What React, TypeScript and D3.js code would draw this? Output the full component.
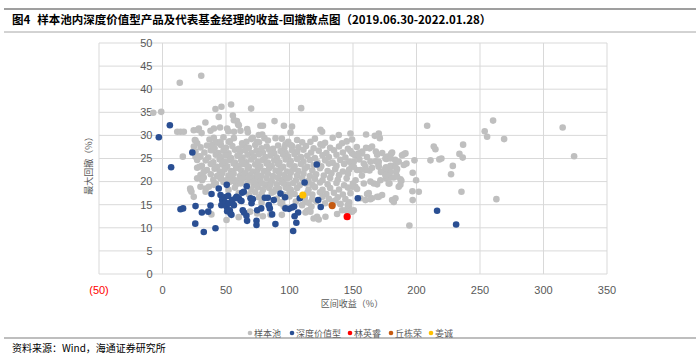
import React from 'react';
import * as d3 from 'd3';

const W = 700;
const H = 355;

const xTicks = [-50, 0, 50, 100, 150, 200, 250, 300, 350];
const xTickLabels = ['(50)', '0', '50', '100', '150', '200', '250', '300', '350'];
const yTicks = [0, 5, 10, 15, 20, 25, 30, 35, 40, 45, 50];

const legendNames = ['样本池', '深度价值型', '林英睿', '丘栋荣', '姜诚'];

// 样本池 (区间收益 %, 最大回撤 %)
const poolPoints: [number, number][] = [
  [-7.3, 34.9], [-1, 35.1], [13.6, 41.4], [30.5, 42.9],
  [41.7, 35.7], [46.4, 36.2], [54, 36.7], [69.8, 35.8], [109.2, 35.9],
  [44.3, 34], [33.8, 32.8], [55.4, 34.3], [56.2, 33.3], [58.6, 33.1], [59.5, 32.4], [60.1, 32.2], [88.2, 33.1], [79.1, 32.1], [77.1, 32.1], [95.6, 32.1], [102, 31.9],
  [11.6, 30.8], [14.2, 30.8], [16.8, 30.8], [24.6, 31.1], [27.8, 31.2], [28.6, 31.5], [30.8, 30.5], [37.8, 31], [40.5, 31.5], [45.3, 31.7], [50.9, 31.5], [51.9, 30.9], [56.3, 30.8], [61.4, 31], [66.7, 31.4], [67.2, 30.7], [75.8, 30.1], [78.5, 30.2], [80.3, 29.4], [89, 29.4], [100.8, 30.6], [124.4, 31.2], [125.7, 30.8], [138.8, 30.1], [148, 30.4], [149.3, 29.1], [160.3, 30.2], [167.2, 29.9], [170.3, 30.4], [171.1, 29.4],
  [106, 29], [110, 28.5], [116.5, 28.6], [102, 27.7], [96.8, 28.1], [124.4, 28.1], [141.4, 28.3],
  [37, 29.1], [43, 28.4], [48, 29.6], [53, 28.7], [63, 28.0], [70, 29.2], [76, 28.5], [83, 28.9], [94, 29.3], [99, 28.6], [120, 29.3], [128, 28.4], [134, 29.5], [145, 28.7],
  [30, 27.4], [35, 27.8], [41, 27.2], [46, 27.9], [50, 27.3], [55, 27.7], [60, 27.1], [64, 27.8], [68, 27.3], [73, 27.9], [78, 27.2], [82, 27.6], [87, 27.1], [91, 27.8], [96, 27.3], [101, 27.9], [107, 27.4], [113, 27.7], [119, 27.2], [126, 27.8], [132, 27.3], [139, 27.6], [146, 27.1], [153, 27.5], [165, 27.6],
  [33, 26.3], [38, 26.8], [44, 26.2], [48, 26.7], [52, 26.1], [57, 26.9], [61, 26.4], [65, 26.8], [70, 26.2], [74, 26.7], [79, 26.3], [84, 26.9], [88, 26.1], [93, 26.6], [97, 26.2], [102, 26.8], [106, 26.4], [111, 26.9], [117, 26.3], [123, 26.7], [129, 26.2], [135, 26.8], [142, 26.3], [148, 26.6], [168, 26.5], [173, 26.2],
  [29, 25.5], [36, 25.2], [42, 25.8], [46, 25.3], [50, 25.7], [54, 25.1], [59, 25.6], [63, 25.2], [67, 25.8], [72, 25.4], [76, 25.9], [81, 25.3], [85, 25.7], [90, 25.2], [95, 25.8], [99, 25.4], [104, 25.9], [109, 25.3], [114, 25.6], [120, 25.1], [126, 25.7], [131, 25.3], [137, 25.8], [144, 25.2], [152, 25.6], [161, 25.3], [169, 25.8], [177, 25.4],
  [34, 24.6], [40, 24.2], [45, 24.8], [49, 24.3], [53, 24.7], [57, 24.1], [62, 24.6], [66, 24.2], [70, 24.8], [75, 24.3], [79, 24.7], [83, 24.1], [88, 24.6], [92, 24.2], [97, 24.8], [101, 24.4], [106, 24.9], [111, 24.3], [116, 24.7], [122, 24.2], [128, 24.6], [134, 24.1], [140, 24.7], [147, 24.3], [155, 24.8], [168, 24.4],
  [31, 23.4], [38, 23.8], [43, 23.2], [47, 23.7], [51, 23.3], [56, 23.9], [60, 23.4], [64, 23.8], [68, 23.2], [73, 23.7], [77, 23.3], [82, 23.9], [86, 23.4], [91, 23.8], [95, 23.2], [100, 23.7], [104, 23.3], [109, 23.8], [114, 23.2], [119, 23.6], [125, 23.3], [131, 23.9], [137, 23.4], [143, 23.8], [149, 23.3], [170, 23.6], [176, 23.1],
  [35, 22.5], [41, 22.8], [45, 22.2], [49, 22.7], [54, 22.3], [58, 22.9], [62, 22.4], [67, 22.8], [71, 22.2], [75, 22.6], [80, 22.3], [84, 22.9], [89, 22.4], [93, 22.8], [98, 22.2], [103, 22.7], [107, 22.3], [112, 22.8], [118, 22.4], [124, 22.9], [130, 22.3], [136, 22.7], [142, 22.2], [147, 22.6], [163, 22.4], [172, 22.1],
  [38, 21.6], [43, 21.2], [47, 21.8], [52, 21.3], [56, 21.7], [61, 21.2], [65, 21.8], [69, 21.4], [74, 21.9], [78, 21.3], [83, 21.7], [87, 21.2], [92, 21.8], [96, 21.4], [101, 21.9], [106, 21.3], [111, 21.7], [116, 21.2], [121, 21.6], [127, 21.3], [133, 21.8], [139, 21.4], [146, 21.7], [157, 21.3],
  [40, 20.4], [46, 20.8], [50, 20.3], [55, 20.7], [60, 20.2], [64, 20.8], [69, 20.4], [73, 20.9], [77, 20.3], [82, 20.7], [86, 20.2], [91, 20.8], [95, 20.4], [100, 20.9], [105, 20.3], [110, 20.7], [115, 20.2], [120, 20.6], [126, 20.3], [132, 20.8], [138, 20.4], [145, 20.7], [152, 20.3],
  [42, 19.6], [48, 19.9], [58, 19.4], [62, 19.8], [67, 19.6], [72, 19.2], [76, 19.7], [81, 19.3], [85, 19.8], [90, 19.4], [94, 19.9], [99, 19.3], [103, 19.7], [108, 19.2], [113, 19.6], [118, 19.3], [124, 19.8], [130, 19.4], [137, 19.7], [143, 19.2], [150, 19.6],
  [34, 18.5], [52, 18.2], [57, 18.7], [70, 18.3], [75, 18.8], [79, 18.2], [84, 18.6], [89, 18.3], [97, 18.7], [101, 18.2], [106, 18.6], [115, 18.3], [120, 18.8], [126, 18.2], [132, 18.6], [139, 18.3], [146, 18.7],
  [60, 17.5], [68, 17.2], [73, 17.7], [78, 17.3], [86, 17.6], [95, 17.2], [100, 17.7], [104, 17.3], [114, 17.6], [118, 17.2], [124, 17.7], [129, 17.3], [135, 17.6], [142, 17.2], [148, 17.5],
  [76, 16.6], [90, 16.3], [100, 16.8], [112, 16.5], [118, 16.2], [126, 16.7], [131, 16.3], [138, 16.6], [144, 16.2],
  [78, 15.5], [93, 15.3], [105, 15.7], [115, 15.4], [121, 15.8], [128, 15.3], [134, 15.7], [140, 15.2], [147, 15.5],
  [38.5, 12.9], [50.4, 11.7], [60, 12.3], [69, 13.5], [79, 12.5], [94, 12.8], [112.6, 13.3], [115.2, 13.8], [119, 12], [121.7, 12.4], [128.3, 12.4], [123, 11.8], [137.5, 13], [141.4, 13.8], [144, 13.8], [148.5, 13.6], [150.6, 13.8], [146.7, 14.6], [145.9, 14.9], [140.1, 15.1], [136.2, 15.9], [117.3, 14.6], [113.9, 13.7], [116.5, 13.5], [112.5, 15.6], [109.9, 14.9], [94.2, 15.6], [95.5, 14.6], [85, 12.8], [74.5, 13.1],
  [25.5, 29], [27.3, 28.3], [24.7, 27.6], [26, 26.5], [29.9, 25.4], [27.3, 24.7], [23.9, 26.5], [16, 25.4], [32.5, 22.1], [29.9, 21.4], [27.3, 20.7], [31.2, 20.3], [32.5, 20.9], [21.8, 18.5], [22.8, 17.8], [24.6, 16.7], [36.5, 18.9], [26, 25.4], [27.3, 23], [29.1, 23.2], [26, 28.9], [39.1, 27.9], [39.6, 26.8], [41.7, 28.6], [40.4, 29.5], [45.7, 28.6], [52.2, 28.6], [56.2, 29.4], [62.7, 28.3], [66.1, 28.6], [71.1, 29.5], [74.5, 28.6],
  [22.1, 18.2], [29.9, 18.9], [33.9, 17.8], [40.4, 19.3], [45.7, 20.7], [53.5, 20], [57.5, 20.3], [61.4, 19.6], [68, 20.7], [71.9, 20], [74.5, 21.4], [78.5, 19.6], [85, 19.3], [87.6, 17.8], [91.6, 18.5], [95.5, 19.6], [98.1, 20.7], [99.5, 18.5],
  [208.4, 32.1], [260.3, 33.2], [253.7, 30.9], [255.6, 29.7], [269, 29.2], [315.1, 31.7], [324.1, 25.5], [236.7, 28], [213.6, 27.6], [214.9, 27], [233.8, 26], [236.4, 25.2], [211, 24.6], [218, 24.8], [219.6, 25], [228.6, 23.4], [227.2, 21.6], [235.4, 17.8], [262.9, 16.2], [198.4, 24.6], [197, 21.9], [199.7, 20.3], [196.8, 17.9], [201.8, 17.8], [197, 16], [194.4, 10.5], [192.1, 23.9], [190, 25.9], [191.3, 26.1], [183.2, 24.7], [180.8, 26.3], [180, 26], [176.3, 24.9], [179.5, 23.4], [182.1, 23.4], [184.7, 22.7], [184, 22.1], [176, 21.8], [176, 20.7], [179.5, 20.9], [182.1, 20.9], [184.7, 21.1], [187.4, 20.5], [188.1, 20.2], [186, 18.9], [178.7, 19.6], [171.6, 20.3], [169, 19.4], [166.4, 19.6], [163.7, 20], [158.5, 19.6], [159.8, 22.5], [155.9, 22.5], [153.2, 22.5], [150.6, 24.3], [157.2, 26.5], [154.6, 26.1], [163, 27.2], [160.3, 27.3], [149.3, 26.1], [151.9, 18.9], [149.3, 18.9], [153.2, 18.4], [161.1, 17.3], [163.7, 16.2], [170.3, 16.7], [172.9, 17.1], [180.8, 16], [183.4, 16.4], [182.1, 15.6], [155.9, 16.4], [149.3, 13.5], [163.7, 24.3], [170.3, 24.3], [175.6, 22.6], [179.5, 22.1],
  [159.8, 23.2], [175.5, 21.4], [183.4, 23.2], [178.1, 19.6], [187.3, 19.3], [162.4, 17.5], [159.8, 16], [165, 16.4], [169, 16.7],
  [157.1, 26.1], [154.5, 25.9], [150.6, 25.9], [175.5, 25], [179.5, 25], [188.6, 25.7], [186, 24.3], [190, 23.6],
  [150.6, 23.2], [158.5, 23.9], [165, 23], [170.3, 23.2], [175.5, 22.9],
];

// 深度价值型
const valuePoints: [number, number][] = [
  [-2.9, 29.6], [5.8, 32.2], [6.8, 23.1], [23.5, 26.3],
  [14.2, 14.0], [16.2, 14.2], [26, 14.7], [25.8, 10.9], [32.5, 9.1], [41.7, 9.9],
  [31, 13.3], [36, 13.5], [37.8, 14.8], [38.6, 17.3], [44.3, 18.5], [50.6, 19.3],
  [45.7, 17.1], [47, 16], [48, 15.3], [46.4, 14.9], [49.6, 15.4], [50.4, 14.6], [52.2, 15.3], [53, 13.8], [53.5, 13.1], [50.9, 13.6], [54.3, 12.8], [48.8, 16.6], [51.7, 16.9], [54.8, 16], [57.5, 16.4], [56.2, 14.9], [58.3, 16.7], [60.1, 16.4], [61.4, 15.9], [62.7, 17.6], [64, 17.8], [66.3, 19.0], [62.2, 15.8], [63.2, 13.8], [64.2, 13.3], [66.1, 12.6], [66.6, 11.5], [69.3, 16.4], [71.2, 16.2], [70.1, 15.3], [74.5, 13.8], [74, 11.5], [74, 10.6], [77.7, 14.2], [80.6, 16.5], [82.9, 16.5], [83.7, 14.9], [84.5, 14.2], [86.3, 12.9], [87.6, 16], [88.9, 10.8], [92.9, 17.4], [96.5, 16.6], [96.8, 14.2], [99.6, 14.1], [102.1, 14.4], [103.6, 14.6], [106.8, 13.3], [104, 12.5], [105.4, 11.1], [102.9, 9.3], [108.1, 16.4], [111.9, 19.8], [121.5, 23.7], [122.6, 16], [124.6, 14.5], [153.8, 16.4], [216.2, 13.7], [231.2, 10.7],
];

const linPoints: [number, number][] = [[145.4, 12.4]];
const qiuPoints: [number, number][] = [[133.6, 14.8]];
const jiangPoints: [number, number][] = [[110.5, 17.1]];

const seriesColors = ['#bfbfbf', '#2a4f93', '#ff0000', '#c55a11', '#ffc000'];

const x = d3.scaleLinear().domain([-50, 350]).range([99, 607]);
const y = d3.scaleLinear().domain([0, 50]).range([274, 43]);

const numFont = '"Liberation Sans", Arial, sans-serif';
const cjkFont = '"Noto Sans CJK SC", "Noto Sans", sans-serif';

export default function App() {
  const series = [poolPoints, valuePoints, linPoints, qiuPoints, jiangPoints];
  const legendX = [250, 292, 350, 391, 431];
  const r = 3.3;
  return (
    <svg width={W} height={H} style={{ position: 'absolute', left: 0, top: 0, background: '#fff' }}>
      <rect x={0} y={0} width={W} height={H} fill="#fff" />
      {/* title */}
      <line x1={4} x2={696} y1={9} y2={9} stroke="#7f7f7f" strokeWidth={1.5} />
      <text x={12} y={24} fontFamily={cjkFont} fontSize={11.5} fontWeight="bold" fill="#000">
        <tspan>图4</tspan>
        <tspan dx={7}>样本池内深度价值型产品及代表基金经理的收益-回撤散点图（2019.06.30-2022.01.28）</tspan>
      </text>
      <line x1={4} x2={696} y1={32} y2={32} stroke="#a6a6a6" strokeWidth={1} />

      {/* grid */}
      {yTicks.map((t) => (
        <line key={'gy' + t} x1={x(-50)} x2={x(350)} y1={y(t)} y2={y(t)} stroke="#d9d9d9" strokeWidth={1} />
      ))}
      {xTicks.map((t) => (
        <line key={'gx' + t} x1={x(t)} x2={x(t)} y1={y(0)} y2={y(50)} stroke="#d9d9d9" strokeWidth={1} />
      ))}

      {/* y tick labels */}
      {yTicks.map((t) => (
        <text key={'ly' + t} x={x(0) - 10} y={y(t)} dy="0.35em" textAnchor="end" fontFamily={numFont} fontSize={11} fill="#595959">
          {t}
        </text>
      ))}
      {/* x tick labels */}
      {xTicks.map((t, i) => (
        <text key={'lx' + t} x={x(t)} y={y(0) + 20} textAnchor="middle" fontFamily={numFont} fontSize={11} fill={t < 0 ? '#ff0000' : '#595959'}>
          {xTickLabels[i]}
        </text>
      ))}

      {/* axis titles */}
      <text x={352} y={307} textAnchor="middle" fontFamily={cjkFont} fontSize={9} fill="#595959">区间收益（%）</text>
      <text transform={`translate(92,${(y(0) + y(50)) / 2 + 5}) rotate(-90)`} textAnchor="middle" fontFamily={cjkFont} fontSize={9} fill="#595959">最大回撤（%）</text>

      {/* points */}
      {series.map((pts, si) => (
        <g key={'s' + si}>
          {pts.map((p, i) => (
            <circle key={i} cx={x(p[0])} cy={y(p[1])} r={si >= 2 ? 3.6 : r} fill={seriesColors[si]} />
          ))}
        </g>
      ))}

      {/* legend */}
      {legendNames.map((n, i) => (
        <g key={'lg' + i}>
          <circle cx={legendX[i]} cy={333} r={2.3} fill={seriesColors[i]} />
          <text x={legendX[i] + 4} y={336.5} fontFamily={cjkFont} fontSize={9} fill="#595959">{n}</text>
        </g>
      ))}

      {/* source */}
      <line x1={4} x2={696} y1={338} y2={338} stroke="#7f7f7f" strokeWidth={1.2} />
      <text x={12} y={352} fontFamily={cjkFont} fontSize={10} fill="#000">资料来源：Wind，海通证券研究所</text>
    </svg>
  );
}
